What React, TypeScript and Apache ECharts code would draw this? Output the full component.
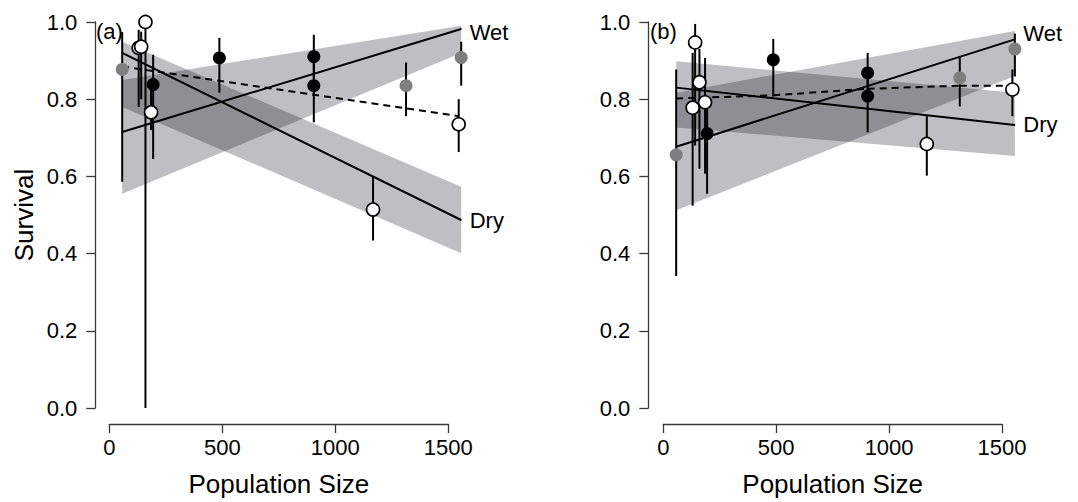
import React, { useEffect, useRef } from "react";
import * as echarts from "echarts";

// Population sizes (same populations in both panels)
const popSize = [57, 130, 141, 160, 185, 194, 487, 905, 905, 1167, 1313, 1546, 1557];
const groupOf = ["grey", "open", "open", "open", "open", "black", "black", "black", "black", "open", "grey", "open", "grey"];

// Panel (a)
const survA = [0.877, 0.933, 0.936, 1.0, 0.766, 0.838, 0.907, 0.91, 0.835, 0.514, 0.835, 0.735, 0.908];
const lowA = [0.586, 0.78, 0.8, 0.0, 0.72, 0.645, 0.817, 0.85, 0.74, 0.434, 0.756, 0.663, 0.835];
const highA = [0.974, 0.98, 0.975, 1.0, 0.83, 0.915, 0.959, 0.967, 0.91, 0.599, 0.895, 0.8, 0.949];

// Panel (b)
const survB = [0.656, 0.778, 0.947, 0.844, 0.792, 0.711, 0.902, 0.868, 0.808, 0.684, 0.855, 0.825, 0.93];
const lowB = [0.342, 0.524, 0.68, 0.62, 0.607, 0.555, 0.807, 0.8, 0.714, 0.602, 0.781, 0.756, 0.859];
const highB = [0.877, 0.92, 0.995, 0.93, 0.907, 0.8, 0.956, 0.92, 0.87, 0.756, 0.91, 0.877, 0.97];

// Fitted lines (ends) and confidence bands
const fitX = [57, 1557];
const wetFitA = [0.715, 0.982];
const dryFitA = [0.92, 0.487];
const wetBandLoA = [0.555, 0.92];
const wetBandHiA = [0.85, 0.99];
const dryBandLoA = [0.78, 0.401];
const dryBandHiA = [0.949, 0.573];
const meanXA = [57, 1546];
const meanA = [0.885, 0.756];

const wetFitB = [0.677, 0.955];
const dryFitB = [0.83, 0.733];
const wetBandLoB = [0.512, 0.86];
const wetBandHiB = [0.817, 0.977];
const dryBandLoB = [0.727, 0.653];
const dryBandHiB = [0.898, 0.817];
const meanXB = [57, 487, 905, 1313, 1546];
const meanB = [0.802, 0.81, 0.827, 0.835, 0.835];

const xTicks = { min: 0, max: 1500, interval: 500 };
const yTicks = { min: 0, max: 1, interval: 0.2 };

const FONT = '"Liberation Sans", Arial, Helvetica, sans-serif';
const BAND_FILL = "rgba(5,7,20,0.26)";
const AXIS_COLOR = "#3a3a3a";

function segments(xs: number[], ys: number[]) {
  const out: number[][] = [];
  for (let i = 0; i < xs.length - 1; i++) out.push([xs[i], ys[i], xs[i + 1], ys[i + 1]]);
  return out;
}

function buildPanel(gi: number, d: any) {
  const series: any[] = [];
  const bandData = [
    [fitX[0], d.wetLo[0], d.wetHi[0], fitX[1], d.wetLo[1], d.wetHi[1]],
    [fitX[0], d.dryLo[0], d.dryHi[0], fitX[1], d.dryLo[1], d.dryHi[1]],
  ];
  series.push({
    type: "custom",
    xAxisIndex: gi,
    yAxisIndex: gi,
    silent: true,
    clip: false,
    z: 1,
    data: bandData,
    renderItem: (_p: any, api: any) => {
      const a = api.coord([api.value(0), api.value(1)]);
      const b = api.coord([api.value(3), api.value(4)]);
      const c = api.coord([api.value(3), api.value(5)]);
      const e = api.coord([api.value(0), api.value(2)]);
      return { type: "polygon", shape: { points: [a, b, c, e] }, style: { fill: BAND_FILL } };
    },
  });
  const lineSeries = (data: number[][], dash: any) => ({
    type: "custom",
    xAxisIndex: gi,
    yAxisIndex: gi,
    silent: true,
    clip: false,
    z: 3,
    data,
    renderItem: (_p: any, api: any) => {
      const a = api.coord([api.value(0), api.value(1)]);
      const b = api.coord([api.value(2), api.value(3)]);
      return {
        type: "line",
        shape: { x1: a[0], y1: a[1], x2: b[0], y2: b[1] },
        style: { stroke: "#000", lineWidth: 2, lineDash: dash },
      };
    },
  });
  series.push(lineSeries(segments(fitX, d.wetFit), null));
  series.push(lineSeries(segments(fitX, d.dryFit), null));
  series.push(lineSeries(segments(d.meanX, d.mean), [7, 5]));
  // end-of-line labels
  const endLabel = (ys: number[], text: string, offset: number[]) => ({
    type: "scatter",
    xAxisIndex: gi,
    yAxisIndex: gi,
    clip: false,
    silent: true,
    z: 6,
    symbol: "circle",
    symbolSize: 1,
    itemStyle: { color: "#000", opacity: 1 },
    label: {
      show: true,
      position: "right",
      distance: 8,
      offset,
      formatter: text,
      fontSize: 22,
      fontFamily: FONT,
      color: "#000",
      opacity: 1,
    },
    data: [[fitX[1], ys[1]]],
  });
  series.push(endLabel(d.wetFit, "Wet", d.wetOff));
  series.push(endLabel(d.dryFit, "Dry", d.dryOff));
  series.push({
    type: "custom",
    xAxisIndex: gi,
    yAxisIndex: gi,
    silent: true,
    clip: false,
    z: 4,
    data: popSize.map((x, i) => [x, d.low[i], d.high[i]]),
    renderItem: (_p: any, api: any) => {
      const a = api.coord([api.value(0), api.value(1)]);
      const b = api.coord([api.value(0), api.value(2)]);
      return {
        type: "line",
        shape: { x1: a[0], y1: a[1], x2: b[0], y2: b[1] },
        style: { stroke: "#000", lineWidth: 2 },
      };
    },
  });
  const styles: any = {
    grey: { color: "#7f7f7f", borderWidth: 0, opacity: 1 },
    black: { color: "#000", borderWidth: 0, opacity: 1 },
    open: { color: "#fff", borderColor: "#000", borderWidth: 1.6, opacity: 1 },
  };
  ["grey", "black", "open"].forEach((g) => {
    series.push({
      type: "scatter",
      xAxisIndex: gi,
      yAxisIndex: gi,
      clip: false,
      silent: true,
      z: 5,
      symbol: "circle",
      symbolSize: 13,
      itemStyle: styles[g],
      data: popSize.map((x, i) => (groupOf[i] === g ? [x, d.surv[i]] : null)).filter((v) => v),
    });
  });
  return series;
}

export default function App() {
  const ref = useRef<HTMLDivElement>(null);
  useEffect(() => {
    if (!ref.current) return;
    const chart = echarts.init(ref.current, undefined, { renderer: "svg" });
    const axisX = (gi: number) => ({
      gridIndex: gi,
      type: "value",
      ...xTicks,
      offset: 16,
      axisLine: { show: true, onZero: false, lineStyle: { color: AXIS_COLOR, width: 1.3 } },
      axisTick: { show: true, length: 9, lineStyle: { color: AXIS_COLOR, width: 1.3 } },
      axisLabel: {
        fontSize: 22,
        color: "#000",
        margin: 12,
        fontFamily: FONT,
        formatter: (v: number) => String(v),
      },
      splitLine: { show: false },
      name: "Population Size",
      nameLocation: "middle",
      nameGap: 47,
      nameTextStyle: { fontSize: 26, color: "#000", fontFamily: FONT },
    });
    const axisY = (gi: number, offset: number, name: string) => ({
      gridIndex: gi,
      type: "value",
      ...yTicks,
      offset,
      axisLine: { show: true, onZero: false, lineStyle: { color: AXIS_COLOR, width: 1.3 } },
      axisTick: { show: true, length: 9, lineStyle: { color: AXIS_COLOR, width: 1.3 } },
      axisLabel: {
        fontSize: 22,
        color: "#000",
        margin: 18,
        fontFamily: FONT,
        formatter: (v: number) => v.toFixed(1),
      },
      splitLine: { show: false },
      name,
      nameLocation: "middle",
      nameGap: 58,
      nameTextStyle: { fontSize: 26, color: "#000", fontFamily: FONT },
    });
    const panelA = {
      surv: survA, low: lowA, high: highA,
      wetFit: wetFitA, dryFit: dryFitA,
      wetLo: wetBandLoA, wetHi: wetBandHiA, dryLo: dryBandLoA, dryHi: dryBandHiA,
      meanX: meanXA, mean: meanA,
      wetOff: [0, 4], dryOff: [0, 0],
    };
    const panelB = {
      surv: survB, low: lowB, high: highB,
      wetFit: wetFitB, dryFit: dryFitB,
      wetLo: wetBandLoB, wetHi: wetBandHiB, dryLo: dryBandLoB, dryHi: dryBandHiB,
      meanX: meanXB, mean: meanB,
      wetOff: [0, -6], dryOff: [0, -1],
    };
    chart.setOption({
      animation: false,
      backgroundColor: "#fff",
      textStyle: { fontFamily: FONT },
      grid: [
        { left: 109.3, top: 22, width: 339, height: 389 },
        { left: 663.3, top: 22, width: 338.7, height: 389 },
      ],
      xAxis: [axisX(0), axisX(1)],
      yAxis: [axisY(0, 14, "Survival"), axisY(1, 15, "")],
      graphic: [
        { type: "text", x: 96, y: 31, style: { text: "(a)", fontSize: 22, fontFamily: FONT, fill: "#000", verticalAlign: "middle" } },
        { type: "text", x: 650, y: 31, style: { text: "(b)", fontSize: 22, fontFamily: FONT, fill: "#000", verticalAlign: "middle" } },
      ],
      series: [...buildPanel(0, panelA), ...buildPanel(1, panelB)],
    });
    return () => chart.dispose();
  }, []);
  return (
    <div
      ref={ref}
      style={{ position: "absolute", left: 0, top: 0, width: 1078, height: 502, background: "#fff" }}
    />
  );
}
